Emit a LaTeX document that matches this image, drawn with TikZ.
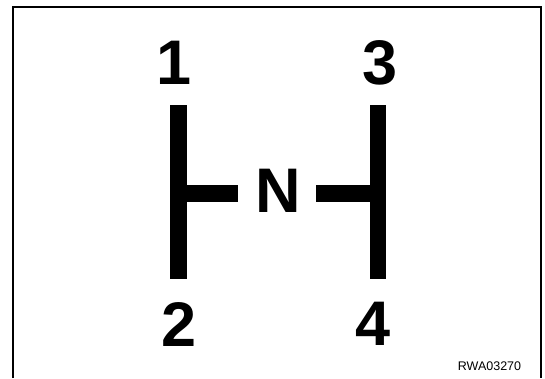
\documentclass[tikz,border=0pt]{standalone}
\usepackage{fontspec}
\setmainfont{Liberation Sans}
\begin{document}
\begin{tikzpicture}[x=1pt,y=-1pt,
  digit/.style={font=\fontsize{63}{63}\selectfont\bfseries, inner sep=0pt, text=black},
  bar/.style={line width=16.5pt, line cap=butt, black},
  frame/.style={line width=2pt, black}]
\useasboundingbox (0,0) rectangle (545,378);
\draw[frame] (13,378) -- (13,7) -- (541,7) -- (541,378);
% gate coordinates
\coordinate (lt) at (178.5,105);
\coordinate (lb) at (178.5,279);
\coordinate (rt) at (378,105);
\coordinate (rb) at (378,279);
\coordinate (lm) at (178.5,193);
\coordinate (rm) at (378,193);
\coordinate (le) at (238,193);
\coordinate (re) at (316,193);
\draw[bar] (lt) -- (lb);
\draw[bar] (rt) -- (rb);
\draw[bar, line width=17pt] (lm) -- (le);
\draw[bar, line width=17pt] (re) -- (rm);
\node[digit] (n1) at (174,62.5) {1};
\node[digit] (n3) at (380,62.5) {3};
\node[digit] (n2) at (179,324) {2};
\node[digit] (n4) at (373.5,323.5) {4};
\node[digit] (nN) at (278,191) {N};
\node[font=\fontsize{12.5}{12.5}\selectfont, inner sep=0pt] (code) at (489.5,366) {RWA03270};
\end{tikzpicture}
\end{document}
